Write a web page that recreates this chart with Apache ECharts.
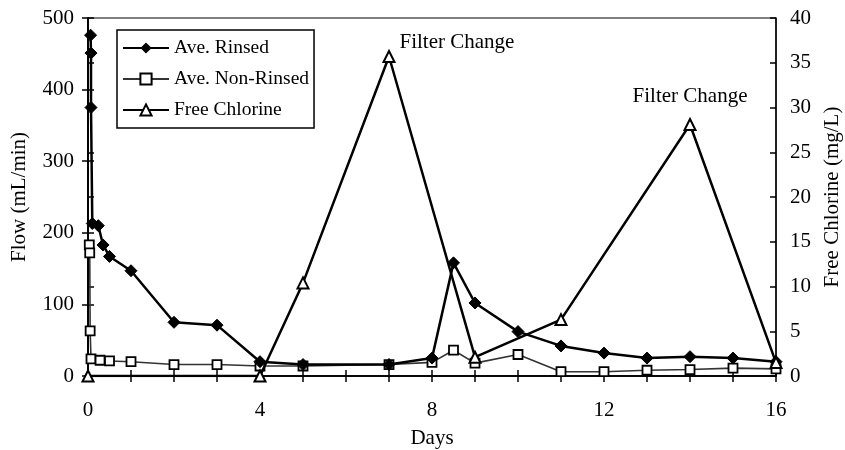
<!DOCTYPE html>
<html>
<head>
<meta charset="utf-8">
<script src="https://cdn.jsdelivr.net/npm/echarts@6/dist/echarts.min.js"></script>
<style>
  html, body { margin: 0; padding: 0; background: #fff; }
  #chart { width: 845px; height: 450px; }
</style>
</head>
<body>
<div id="chart"></div>
<script>
// Flow of rinsed / non-rinsed filters and free chlorine over time
const rinsedDays = [0.06, 0.07, 0.07, 0.1, 0.24, 0.35, 0.5, 1, 2, 3, 4, 5, 7, 8, 8.5, 9, 10, 11, 12, 13, 14, 15, 16];
const rinsedFlow = [476, 451, 375, 213, 210, 183, 167, 147, 75, 71, 20, 16, 16, 25, 158, 102, 62, 42, 32, 25, 27, 25, 20];

const nonRinsedDays = [0.03, 0.04, 0.05, 0.07, 0.28, 0.5, 1, 2, 3, 4, 5, 7, 8, 8.5, 9, 10, 11, 12, 13, 14, 15, 16];
const nonRinsedFlow = [183, 172, 63, 24, 22, 21, 20, 16, 16, 14, 14, 16, 19, 36, 18, 30, 6, 6, 8, 9, 11, 10];

const chlorineDays = [0, 4, 5, 7, 9, 11, 14, 16];
const chlorineMgL = [0, 0, 10.4, 35.7, 2.1, 6.3, 28.1, 1.5];

const dayTicks = { min: 0, max: 16, interval: 1, labelEvery: 4 };
const flowTicks = { min: 0, max: 500, interval: 100 };
const chlorineTicks = { min: 0, max: 40, interval: 5 };

const filterChanges = [
  { day: 7, value: 35.7, text: 'Filter Change', side: 'right' },
  { day: 14, value: 28.1, text: 'Filter Change', side: 'top' }
];

const FONT = 'Liberation Serif';
const FS = 21;
const pair = (xs, ys) => xs.map((x, i) => [x, ys[i]]);

const tickLabel = { fontFamily: FONT, fontSize: FS, color: '#000' };
const nameStyle = { fontFamily: FONT, fontSize: FS, color: '#000' };
const axisLine = { show: true, lineStyle: { color: '#000', width: 1.5 } };

function xAxisDef(inside, withLabels) {
  return {
    type: 'value', position: 'bottom',
    min: dayTicks.min, max: dayTicks.max, interval: dayTicks.interval,
    axisLine: axisLine,
    axisTick: { show: true, inside: inside, length: 6, lineStyle: { color: '#000', width: 1.5 } },
    axisLabel: withLabels ? Object.assign({
      margin: 24,
      formatter: v => (v % dayTicks.labelEvery === 0 ? String(v) : '')
    }, tickLabel) : { show: false },
    splitLine: { show: false },
    name: withLabels ? 'Days' : '',
    nameLocation: 'middle', nameGap: 52,
    nameTextStyle: nameStyle
  };
}

function yAxisDef(t, pos, inside, withLabels, name, gap, margin) {
  return {
    type: 'value', position: pos,
    min: t.min, max: t.max, interval: t.interval,
    axisLine: axisLine,
    axisTick: { show: true, inside: inside, length: 6, lineStyle: { color: '#000', width: 1.5 } },
    axisLabel: withLabels ? Object.assign({ margin: margin }, tickLabel) : { show: false },
    splitLine: { show: false },
    name: withLabels ? name : '',
    nameLocation: 'middle', nameGap: gap, nameRotate: 90,
    nameTextStyle: nameStyle
  };
}

const chart = echarts.init(document.getElementById('chart'), null, { renderer: 'canvas' });

chart.setOption({
  animation: false,
  backgroundColor: '#fff',
  grid: {
    left: 88, right: 69, top: 18, bottom: 74,
    containLabel: false, outerBoundsMode: 'none',
    show: true, borderColor: '#000', borderWidth: 1, backgroundColor: 'transparent'
  },
  legend: {
    orient: 'vertical', left: 117, top: 30,
    borderColor: '#000', borderWidth: 1.5, padding: [8, 5, 8, 5],
    itemWidth: 46, itemHeight: 14, itemGap: 11,
    textStyle: { fontFamily: FONT, fontSize: 19.5, color: '#000' },
    data: ['Ave. Rinsed', 'Ave. Non-Rinsed', 'Free Chlorine']
  },
  xAxis: [xAxisDef(false, true), xAxisDef(true, false)],
  yAxis: [
    yAxisDef(flowTicks, 'left', false, true, 'Flow (mL/min)', 58, 14),
    yAxisDef(chlorineTicks, 'right', false, true, 'Free Chlorine (mg/L)', 46, 14),
    yAxisDef(flowTicks, 'left', true, false, '', 0, 0),
    yAxisDef(chlorineTicks, 'right', true, false, '', 0, 0)
  ],
  series: [
    {
      name: 'Ave. Rinsed', type: 'line', xAxisIndex: 0, yAxisIndex: 0,
      data: pair(rinsedDays, rinsedFlow),
      symbol: 'diamond', symbolSize: 12,
      lineStyle: { color: '#000', width: 2.5 },
      itemStyle: { color: '#000', borderColor: '#000' },
      z: 4
    },
    {
      name: 'Ave. Non-Rinsed', type: 'line', xAxisIndex: 0, yAxisIndex: 0,
      data: pair(nonRinsedDays, nonRinsedFlow),
      symbol: 'rect', symbolSize: 9, showAllSymbol: true,
      lineStyle: { color: '#333', width: 1.6 },
      itemStyle: { color: '#fff', borderColor: '#000', borderWidth: 1.8 },
      z: 3
    },
    {
      name: 'Free Chlorine', type: 'line', xAxisIndex: 0, yAxisIndex: 1,
      data: pair(chlorineDays, chlorineMgL),
      symbol: 'triangle', symbolSize: 11,
      lineStyle: { color: '#000', width: 2.5 },
      itemStyle: { color: '#fff', borderColor: '#000', borderWidth: 2 },
      z: 5,
      markPoint: {
        symbol: 'circle', symbolSize: 1,
        itemStyle: { color: 'transparent' },
        data: filterChanges.map(f => ({
          coord: [f.day, f.value],
          label: {
            show: true, formatter: f.text,
            position: f.side,
            distance: f.side === 'right' ? 10 : 17,
            offset: f.side === 'right' ? [0, -14] : [0, 0],
            fontFamily: FONT, fontSize: FS, color: '#000'
          }
        }))
      }
    }
  ]
});
</script>
</body>
</html>
